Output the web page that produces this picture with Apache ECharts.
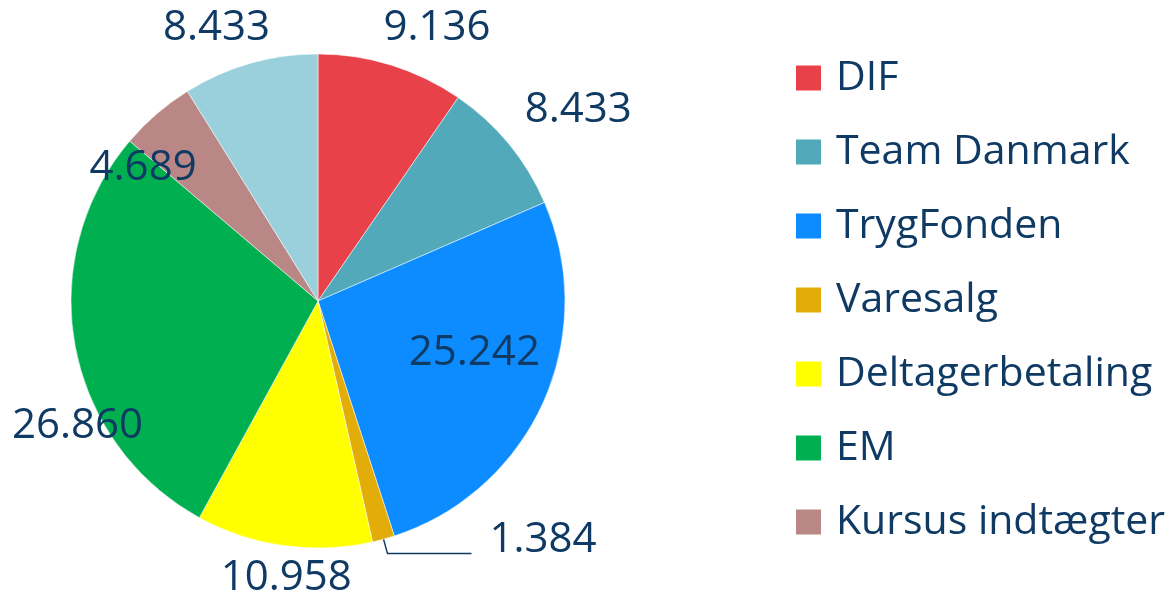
<!DOCTYPE html>
<html>
<head>
<meta charset="utf-8">
<script src="https://cdn.jsdelivr.net/npm/echarts@6/dist/echarts.min.js"></script>
<style>
  html, body { margin: 0; padding: 0; background: #fff; }
  #chart { width: 1171px; height: 597px; }
</style>
</head>
<body>
<div id="chart"></div>
<script>
// indtægter (tal)
const names = ['DIF', 'Team Danmark', 'TrygFonden', 'Varesalg', 'Deltagerbetaling', 'EM', 'Kursus indtægter', ''];
const values = [9.136, 8.433, 25.242, 1.384, 10.958, 26.860, 4.689, 8.433];
const legendNames = names.slice(0, 7);

const colors = ['#E8414A', '#52A9B9', '#0D8CFF', '#E2AC09', '#FFFF00', '#00AF50', '#B98886', '#99D0DC'];

// label nudges (px) relative to where echarts puts them
const labelShift = [
  [-8, -37], [16, -34], [41, 0], [0, -14], [68, 32], [68, 80], [40, 54], [20, -35]
];

const textColor = '#0F3A64';
const fontFamily = '"Open Sans", "Noto Sans", sans-serif';

const chart = echarts.init(document.getElementById('chart'));

const data = values.map((v, i) => {
  const d = { value: v, name: names[i], itemStyle: { color: colors[i] } };
  if (i === 2) d.label = { position: 'inside' };
  if (i === 3) {
    // only the small slice gets a leader line
    d.label = { distanceToLabelLine: 18 };
    d.labelLine = { show: true, length: 15, length2: 84 };
  }
  return d;
});

chart.setOption({
  animation: false,
  legend: {
    orient: 'vertical',
    left: 794,
    top: 53,
    padding: 0,
    data: legendNames,
    icon: 'rect',
    itemWidth: 27,
    itemHeight: 27,
    itemGap: 24,
    selectedMode: false,
    textStyle: {
      fontSize: 41,
      lineHeight: 50,
      color: textColor,
      fontFamily,
      padding: [0, 0, 0, 9]
    }
  },
  series: [
    {
      type: 'pie',
      center: [318, 301],
      radius: 247,
      startAngle: 90,
      clockwise: true,
      avoidLabelOverlap: false,
      itemStyle: { borderColor: '#fff', borderWidth: 0.5 },
      label: {
        show: true,
        position: 'outside',
        fontSize: 42,
        color: textColor,
        fontFamily,
        distanceToLabelLine: 0,
        formatter: (p) => p.value.toFixed(3)
      },
      labelLine: {
        show: false,
        length: 0,
        length2: 0,
        lineStyle: { color: textColor, width: 1.5 }
      },
      labelLayout: (p) => ({
        dx: labelShift[p.dataIndex][0],
        dy: labelShift[p.dataIndex][1]
      }),
      emphasis: { disabled: true },
      data
    }
  ]
});
</script>
</body>
</html>
